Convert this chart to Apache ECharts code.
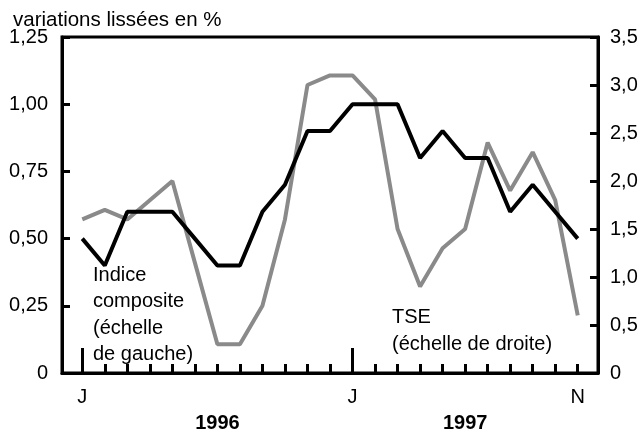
<!DOCTYPE html>
<html>
<head>
<meta charset="utf-8">
<script src="https://cdn.jsdelivr.net/npm/echarts@6/dist/echarts.min.js"></script>
<style>
html, body { margin: 0; padding: 0; background: #fff; }
#chart { width: 641px; height: 433px; }
</style>
</head>
<body>
<div id="chart"></div>
<script>
// months Jan 1996 .. Nov 1997
var monthLabels = ['J','F','M','A','M','J','J','A','S','O','N','D',
                   'J','F','M','A','M','J','J','A','S','O','N'];
var shownLabels = { 0: 'J', 12: 'J', 22: 'N' };
var yearLabels = { 6: '1996', 17: '1997' };
// Indice composite (left scale)
var composite = [0.50, 0.40, 0.60, 0.60, 0.60, 0.50, 0.40, 0.40, 0.60, 0.70, 0.90, 0.90,
                 1.00, 1.00, 1.00, 0.80, 0.90, 0.80, 0.80, 0.60, 0.70, 0.60, 0.50];
// TSE (right scale)
var tse = [1.60, 1.70, 1.60, 1.80, 2.00, 1.15, 0.30, 0.30, 0.70, 1.60, 3.00, 3.10,
           3.10, 2.85, 1.50, 0.90, 1.30, 1.50, 2.40, 1.90, 2.30, 1.80, 0.60];

var font = 'Liberation Sans, Arial, sans-serif';
var chart = echarts.init(document.getElementById('chart'));

function comma(v, d) {
	if (v === 0) return '0';
	return v.toFixed(d).replace('.', ',');
}

chart.setOption({
	animation: false,
	title: {
		text: 'variations lissées en %',
		left: 8,
		top: 5,
		textStyle: { fontFamily: font, fontSize: 20.5, fontWeight: 'normal', color: '#000' }
	},
	grid: {
		left: 62, right: 43, top: 37, bottom: 60,
		show: true, borderColor: '#000', borderWidth: 3
	},
	xAxis: [
		{
			type: 'value', min: -0.9, max: 22.9,
			axisLine: { show: true, onZero: false, lineStyle: { color: '#000', width: 3 } },
			splitLine: { show: false },
			axisTick: { inside: true, length: 9, lineStyle: { color: '#000', width: 3 },
				customValues: monthLabels.map(function (m, i) { return i; }) },
			axisLabel: { customValues: [0, 12, 22], margin: 14,
				fontFamily: font, fontSize: 20, color: '#000',
				formatter: function (v) { return shownLabels[v] || ''; } }
		},
		{
			type: 'value', min: -0.9, max: 22.9, position: 'bottom',
			axisLine: { show: false, onZero: false },
			splitLine: { show: false },
			axisTick: { inside: true, length: 25, lineStyle: { color: '#000', width: 3 },
				customValues: [0, 12] },
			axisLabel: { customValues: [6, 17], margin: 40,
				fontFamily: font, fontSize: 20, fontWeight: 'bold', color: '#000',
				formatter: function (v) { return yearLabels[v] || ''; } }
		}
	],
	yAxis: [
		{
			type: 'value', min: 0, max: 1.25, interval: 0.25, position: 'left',
			axisLine: { show: true, onZero: false, lineStyle: { color: '#000', width: 3 } },
			axisTick: { show: true, inside: true, length: 8, lineStyle: { color: '#000', width: 3 } },
			splitLine: { show: false },
			axisLabel: { margin: 14, fontFamily: font, fontSize: 20, color: '#000',
				formatter: function (v) { return comma(v, 2); } }
		},
		{
			type: 'value', min: 0, max: 3.5, interval: 0.5, position: 'right',
			axisLine: { show: true, onZero: false, lineStyle: { color: '#000', width: 3 } },
			axisTick: { show: true, inside: true, length: 8, lineStyle: { color: '#000', width: 3 } },
			splitLine: { show: false },
			axisLabel: { margin: 12, fontFamily: font, fontSize: 20, color: '#000',
				formatter: function (v) { return comma(v, 1); } }
		}
	],
	series: [
		{
			name: 'TSE', type: 'line', yAxisIndex: 1, xAxisIndex: 0,
			data: tse.map(function (v, i) { return [i, v]; }),
			symbol: 'none',
			lineStyle: { color: '#8a8a8a', width: 4 },
			z: 2
		},
		{
			name: 'Indice composite', type: 'line', yAxisIndex: 0, xAxisIndex: 0,
			data: composite.map(function (v, i) { return [i, v]; }),
			symbol: 'none',
			lineStyle: { color: '#000', width: 4 },
			z: 3
		}
	],
	graphic: [
		{
			type: 'text', left: 93, top: 262, z: 10,
			style: { text: 'Indice\ncomposite\n(échelle\nde gauche)', fill: '#000',
				font: '20px ' + font, lineHeight: 26.5 }
		},
		{
			type: 'text', left: 392, top: 304, z: 10,
			style: { text: 'TSE\n(échelle de droite)', fill: '#000',
				font: '20px ' + font, lineHeight: 27 }
		}
	]
});
</script>
</body>
</html>
